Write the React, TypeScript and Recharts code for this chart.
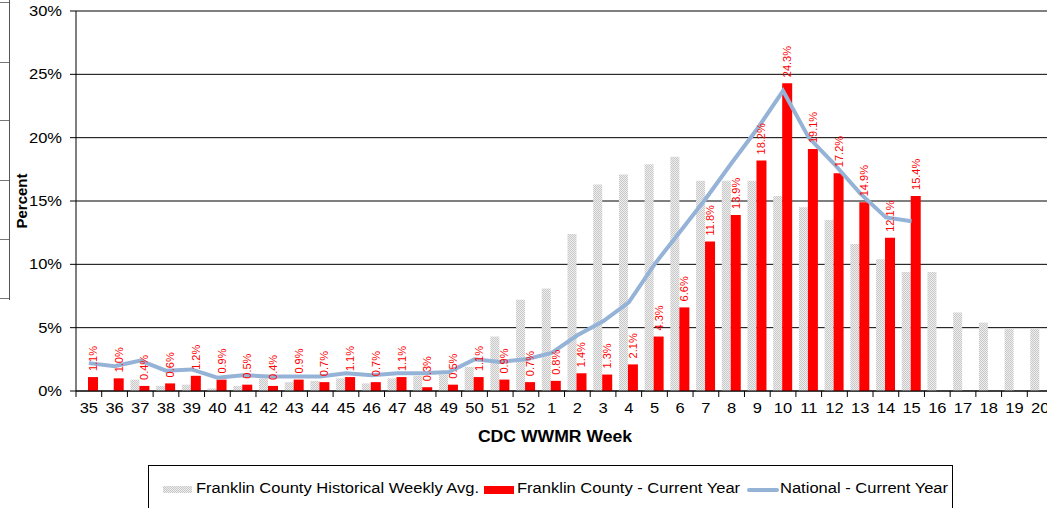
import React from 'react';
import {
  ComposedChart,
  Bar,
  Line,
  XAxis,
  YAxis,
  CartesianGrid,
  LabelList,
} from 'recharts';

const weeks = [
  '35', '36', '37', '38', '39', '40', '41', '42', '43', '44', '45', '46', '47', '48', '49', '50', '51', '52',
  '1', '2', '3', '4', '5', '6', '7', '8', '9', '10', '11', '12', '13', '14', '15', '16', '17', '18', '19', '20',
];

// Franklin County historical weekly average (%)
const historical = [
  0, 0, 0.9, 0.4, 0.5, 0.2, 0.4, 1.0, 0.7, 0.8, 1.0, 0.6, 1.0, 1.2, 1.3, 1.9, 4.3, 7.2,
  8.1, 12.4, 16.3, 17.1, 17.9, 18.5, 16.6, 16.6, 16.6, 15.4, 14.5, 13.5, 11.6, 10.4, 9.4, 9.4, 6.2, 5.4, 4.9, 4.9,
];

// Franklin County current year (%)
const currentYear = [
  1.1, 1.0, 0.4, 0.6, 1.2, 0.9, 0.5, 0.4, 0.9, 0.7, 1.1, 0.7, 1.1, 0.3, 0.5, 1.1, 0.9, 0.7,
  0.8, 1.4, 1.3, 2.1, 4.3, 6.6, 11.8, 13.9, 18.2, 24.3, 19.1, 17.2, 14.9, 12.1, 15.4, null, null, null, null, null,
];

// National current year (%)
const national = [
  2.2, 1.95, 2.4, 1.6, 1.7, 1.05, 1.25, 1.15, 1.15, 1.15, 1.4, 1.25, 1.4, 1.4, 1.5, 2.5, 2.3, 2.5,
  3.0, 4.4, 5.5, 7.0, 10.0, 12.6, 15.2, 18.0, 20.7, 23.7, 20.0, 17.9, 15.6, 13.7, 13.4, null, null, null, null, null,
];

const yTicks = [0, 5, 10, 15, 20, 25, 30];

const data = weeks.map((week, i) => ({
  week,
  historical: historical[i],
  current: currentYear[i],
  national: national[i],
}));

const FONT = '"Liberation Sans", Arial, sans-serif';
const CHART_W = 1060;
const CHART_H = 508;
const PLOT_LEFT = 76;
const PLOT_RIGHT = 1053;
const PLOT_BOTTOM = 391;
const BAND = (PLOT_RIGHT - PLOT_LEFT) / weeks.length;
const STRETCH = 1.18; // the source image is a bit wider than tall

const XTick = (props: any) => {
  const { x, payload } = props;
  const bx = x - BAND / 2;
  return (
    <g>
      <line x1={bx} x2={bx} y1={PLOT_BOTTOM} y2={PLOT_BOTTOM + 6} stroke="#000" />
      <text
        transform={`translate(${x} ${PLOT_BOTTOM + 22}) scale(${STRETCH} 1)`}
        textAnchor="middle"
        fontSize={14}
        fontFamily={FONT}
        fill="#000"
      >
        {payload.value}
      </text>
    </g>
  );
};

const YTick = (props: any) => {
  const { x, y, payload } = props;
  return (
    <text
      transform={`translate(${x} ${y}) scale(${STRETCH} 1)`}
      textAnchor="end"
      dominantBaseline="central"
      fontSize={14}
      fontFamily={FONT}
      fill="#000"
    >
      {`${payload.value}%`}
    </text>
  );
};

const RedLabel = (props: any) => {
  const { x, y, width, value } = props;
  if (value == null) return null;
  const cx = Number(x) + Number(width) / 2;
  const ty = Number(y) - 6;
  return (
    <text
      x={cx}
      y={ty}
      transform={`rotate(-90 ${cx} ${ty})`}
      fill="#FF0000"
      fontSize={11}
      fontFamily={FONT}
      textAnchor="start"
      dominantBaseline="central"
    >
      {`${Number(value).toFixed(1)}%`}
    </text>
  );
};

const legendText: React.CSSProperties = {
  position: 'absolute',
  top: 14,
  fontSize: 14,
  fontFamily: FONT,
  color: '#000',
  whiteSpace: 'nowrap',
  transform: `scaleX(${STRETCH})`,
  transformOrigin: 'left center',
};

export default function App() {
  return (
    <div
      style={{
        position: 'absolute',
        left: 0,
        top: 0,
        width: 1047,
        height: 508,
        overflow: 'hidden',
        background: '#fff',
      }}
    >
      {/* clipped neighbour panel on the left edge */}
      <div style={{ position: 'absolute', left: 0, top: 0, width: 9, height: 300, borderRight: '1px solid #555' }} />
      {[2, 62, 120, 180, 239, 298].map((t) => (
        <div key={t} style={{ position: 'absolute', left: 0, top: t, width: 9, height: 0, borderTop: '1px solid #777' }} />
      ))}

      <div style={{ position: 'absolute', left: 0, top: 0 }}>
        <ComposedChart
          width={CHART_W}
          height={CHART_H}
          data={data}
          margin={{ top: 11, right: CHART_W - PLOT_RIGHT, left: 0, bottom: 87 }}
          barGap={0}
          barCategoryGap="14%"
        >
          <defs>
            <pattern id="histPattern" width="2" height="2" patternUnits="userSpaceOnUse">
              <rect width="2" height="2" fill="#eeeeee" />
              <rect width="1" height="1" fill="#c8c8c8" />
              <rect x="1" y="1" width="1" height="1" fill="#c8c8c8" />
            </pattern>
          </defs>
          <CartesianGrid vertical={false} stroke="#000" strokeWidth={1} />
          <XAxis
            dataKey="week"
            interval={0}
            height={30}
            tickLine={false}
            axisLine={{ stroke: '#000' }}
            tick={<XTick />}
          />
          <YAxis
            width={PLOT_LEFT}
            domain={[0, 30]}
            ticks={yTicks}
            axisLine={{ stroke: '#000' }}
            tickLine={{ stroke: '#000' }}
            tickSize={6}
            tickMargin={8}
            tick={<YTick />}
            allowDataOverflow
          />
          <Bar dataKey="historical" fill="url(#histPattern)" barSize={9} isAnimationActive={false} />
          <Bar dataKey="current" fill="#FF0000" barSize={10} isAnimationActive={false}>
            <LabelList dataKey="current" content={RedLabel} />
          </Bar>
          <Line
            dataKey="national"
            stroke="#95B3D7"
            strokeWidth={4}
            dot={false}
            activeDot={false}
            type="linear"
            isAnimationActive={false}
          />
        </ComposedChart>
      </div>

      {/* y-axis title */}
      <div
        style={{
          position: 'absolute',
          left: 21,
          top: 201,
          transform: 'translate(-50%, -50%) rotate(-90deg)',
          fontSize: 15,
          fontWeight: 'bold',
          fontFamily: FONT,
          whiteSpace: 'nowrap',
        }}
      >
        Percent
      </div>

      {/* x-axis title */}
      <div
        style={{
          position: 'absolute',
          left: 555,
          top: 437,
          transform: `translate(-50%, -50%) scaleX(1.1)`,
          fontSize: 16,
          fontWeight: 'bold',
          fontFamily: FONT,
          whiteSpace: 'nowrap',
        }}
      >
        CDC WWMR Week
      </div>

      {/* legend */}
      <div
        style={{
          position: 'absolute',
          left: 148,
          top: 465,
          width: 805,
          height: 60,
          border: '1px solid #000',
          boxSizing: 'border-box',
        }}
      >
        <div
          style={{
            position: 'absolute',
            left: 14,
            top: 20,
            width: 29,
            height: 7,
            background: 'repeating-conic-gradient(#c8c8c8 0% 25%, #eeeeee 0% 50%) 0 0 / 2px 2px',
          }}
        />
        <div style={{ ...legendText, left: 47 }}>Franklin County Historical Weekly Avg.</div>
        <div style={{ position: 'absolute', left: 335, top: 20, width: 30, height: 8, background: '#FF0000' }} />
        <div style={{ ...legendText, left: 368 }}>Franklin County - Current Year</div>
        <div style={{ position: 'absolute', left: 598, top: 22, width: 32, height: 4, background: '#95B3D7', borderRadius: 2 }} />
        <div style={{ ...legendText, left: 631 }}>National - Current Year</div>
      </div>
    </div>
  );
}
